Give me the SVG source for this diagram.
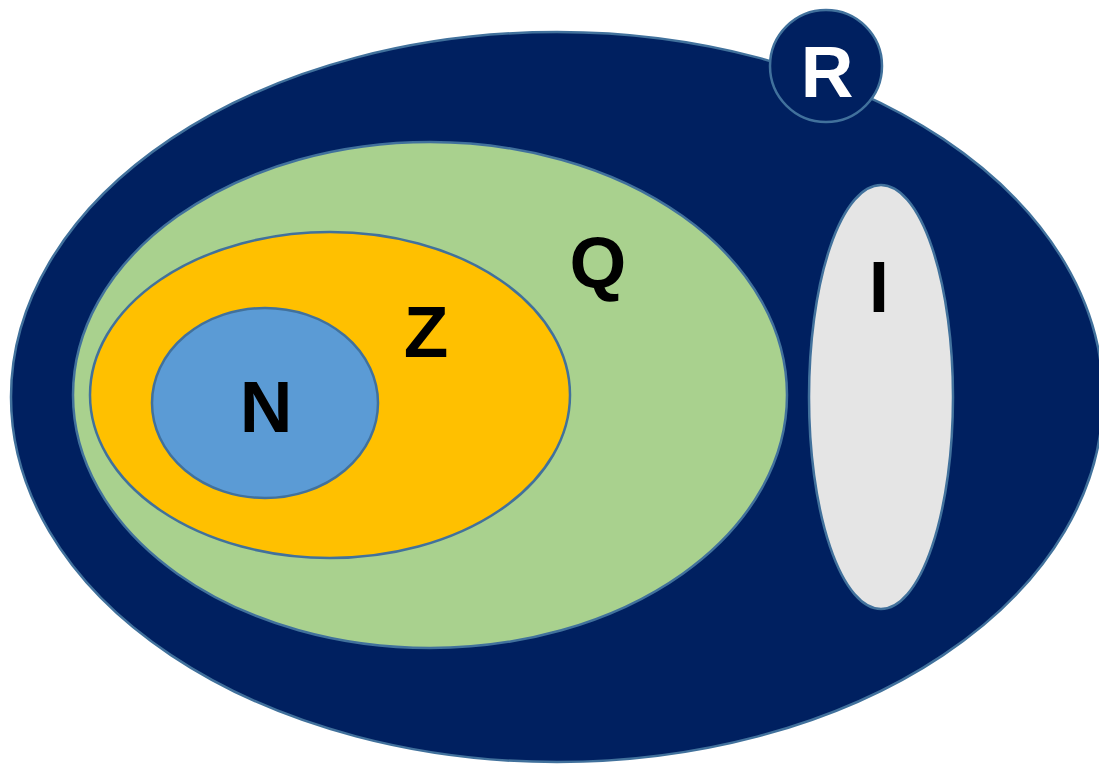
<svg xmlns="http://www.w3.org/2000/svg" width="1099" height="764" viewBox="0 0 1099 764">
<style>
.s{stroke:#41719C;stroke-width:2.5}
.t{font-family:"Liberation Sans",Arial,sans-serif;font-weight:bold;font-size:73px;text-anchor:middle}
</style>
<rect width="1099" height="764" fill="#ffffff"/>
<g id="R-set">
<ellipse cx="557" cy="397" rx="546" ry="365" fill="#002060" class="s"/>
</g>
<g id="Q-set">
<ellipse cx="430" cy="395" rx="357" ry="253" fill="#A9D18E" class="s"/>
<text class="t" x="598" y="288" fill="#000">Q</text>
</g>
<g id="Z-set">
<ellipse cx="330" cy="395" rx="240" ry="163" fill="#FFC000" class="s"/>
<text class="t" x="426" y="357" fill="#000">Z</text>
</g>
<g id="N-set">
<ellipse cx="265" cy="403" rx="113" ry="95" fill="#5B9BD5" class="s"/>
<text class="t" x="266" y="432" fill="#000">N</text>
</g>
<g id="I-set">
<ellipse cx="881" cy="397" rx="72" ry="212" fill="#E5E5E5" class="s"/>
<text class="t" x="879" y="312" fill="#000">I</text>
</g>
<g id="R-label">
<circle cx="826" cy="66" r="56" fill="#002060" class="s"/>
<text class="t" x="827" y="97" fill="#fff">R</text>
</g>
<g id="connectors"/>
</svg>
